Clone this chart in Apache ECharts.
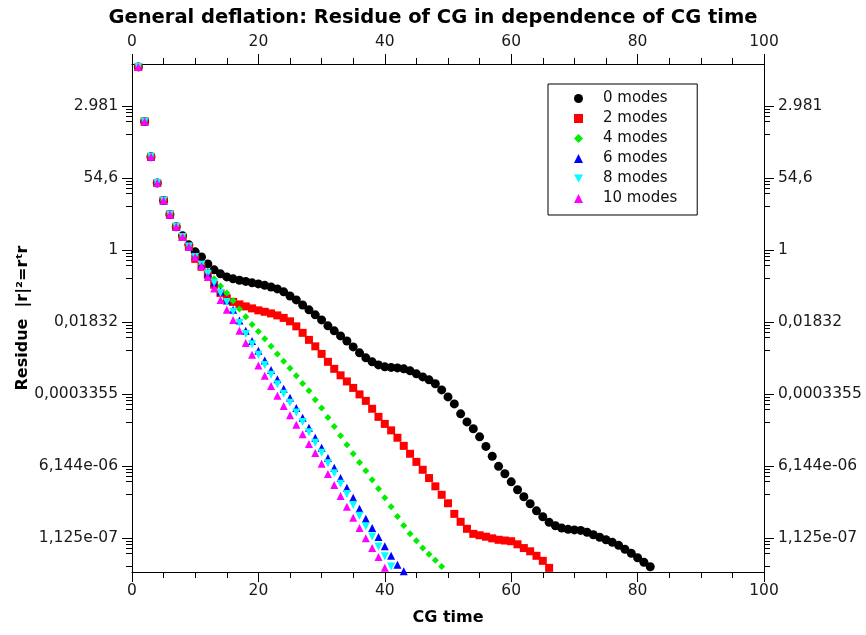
<!DOCTYPE html>
<html>
<head>
<meta charset="utf-8">
<title>General deflation</title>
<script src="https://cdn.jsdelivr.net/npm/echarts@6/dist/echarts.min.js"></script>
<style>
html, body { margin: 0; padding: 0; background: #fff; }
#main { width: 866px; height: 635px; }
</style>
</head>
<body>
<div id="main"></div>
<script>
// natural log of the residue |r|^2, one value per CG iteration (t = 1, 2, 3, ...)
var modes0 = [10.17, 7.14, 5.17, 3.72, 2.75, 1.97, 1.28, 0.78, 0.28,
  -0.11, -0.39, -0.78, -1.11, -1.33, -1.5, -1.61, -1.69, -1.75, -1.83,
  -1.89, -1.97, -2.06, -2.17, -2.33, -2.56, -2.78, -3.06, -3.33, -3.61,
  -3.89, -4.22, -4.5, -4.78, -5.06, -5.39, -5.72, -6.0, -6.22, -6.39,
  -6.5, -6.53, -6.56, -6.61, -6.72, -6.89, -7.06, -7.22, -7.44, -7.78,
  -8.17, -8.56, -9.11, -9.56, -9.94, -10.39, -10.92, -11.47, -12.03, -12.44,
  -12.89, -13.33, -13.72, -14.11, -14.5, -14.83, -15.14, -15.33, -15.46, -15.53,
  -15.56, -15.59, -15.69, -15.83, -15.97, -16.11, -16.25, -16.42, -16.64, -16.86,
  -17.11, -17.36, -17.61];
var modes2 = [10.17, 7.14, 5.17, 3.72, 2.75, 1.97, 1.28, 0.72, 0.19,
  -0.5, -0.94, -1.39, -1.94, -2.39, -2.69, -2.89, -3.03, -3.14, -3.25,
  -3.36, -3.44, -3.53, -3.64, -3.78, -3.97, -4.25, -4.61, -5.0, -5.36,
  -5.78, -6.22, -6.61, -6.97, -7.31, -7.67, -8.03, -8.39, -8.83, -9.28,
  -9.67, -10.03, -10.44, -10.89, -11.33, -11.78, -12.22, -12.68, -13.14, -13.61,
  -14.08, -14.67, -15.11, -15.5, -15.78, -15.86, -15.94, -16.03, -16.11, -16.15,
  -16.19, -16.36, -16.57, -16.75, -17.0, -17.28, -17.67];
var modes4 = [10.17, 7.14, 5.17, 3.72, 2.75, 1.97, 1.28, 0.72, 0.19,
  -0.44, -0.83, -1.22, -1.61, -2.0, -2.39, -2.83, -3.28, -3.72, -4.14,
  -4.53, -4.94, -5.36, -5.78, -6.19, -6.58, -7.0, -7.42, -7.83, -8.33,
  -8.78, -9.31, -9.81, -10.33, -10.83, -11.33, -11.81, -12.28, -12.78, -13.28,
  -13.78, -14.28, -14.81, -15.31, -15.78, -16.17, -16.56, -16.92, -17.25, -17.59];
var modes6 = [10.17, 7.14, 5.17, 3.72, 2.75, 1.97, 1.28, 0.72, 0.19,
  -0.36, -0.81, -1.28, -1.81, -2.31, -2.81, -3.33, -3.92, -4.5, -5.06,
  -5.61, -6.14, -6.67, -7.19, -7.72, -8.22, -8.78, -9.33, -9.89, -10.44,
  -11.0, -11.56, -12.11, -12.67, -13.22, -13.78, -14.39, -14.94, -15.46, -15.96,
  -16.47, -17.0, -17.5, -17.86];
var modes8 = [10.17, 7.14, 5.17, 3.72, 2.75, 1.97, 1.28, 0.72, 0.19,
  -0.39, -0.83, -1.33, -1.83, -2.39, -2.89, -3.44, -4.06, -4.67, -5.25,
  -5.83, -6.39, -6.94, -7.47, -8.0, -8.5, -9.03, -9.56, -10.14, -10.72,
  -11.28, -11.85, -12.41, -13.0, -13.56, -14.17, -14.78, -15.36, -15.93, -16.48,
  -17.03, -17.59];
var modes10 = [10.17, 7.14, 5.17, 3.72, 2.75, 1.97, 1.28, 0.72, 0.19,
  -0.39, -0.89, -1.5, -2.14, -2.78, -3.33, -3.89, -4.5, -5.17, -5.83,
  -6.42, -7.0, -7.56, -8.11, -8.67, -9.19, -9.72, -10.25, -10.78, -11.29,
  -11.89, -12.46, -13.06, -13.67, -14.28, -14.89, -15.46, -16.02, -16.57, -17.07,
  -17.67];

var seriesNames = ['0 modes', '2 modes', '4 modes', '6 modes', '8 modes', '10 modes'];

// y ticks sit at e^k, labelled the way the original program printed them
var yTickExp = [-16, -12, -8, -4, 0, 4, 8];
var yTickLabels = ['1,125e-07', '6,144e-06', '0,0003355', '0,01832', '1', '54,6', '2.981'];
var yMinorOffsets = [0.17, 0.37, 0.59, 0.85, 1.56];

var yMin = -17.9, yMax = 10.33;

var yMinor = [];
yTickExp.forEach(function (k) {
  yMinorOffsets.forEach(function (d) {
    if (k - d > yMin) yMinor.push(k - d);
  });
});

function pts(arr) {
  return arr.map(function (v, i) { return [i + 1, v]; });
}

function yLabel(v) {
  var i = yTickExp.indexOf(Math.round(v));
  return i < 0 ? '' : yTickLabels[i];
}

var font = 'DejaVu Sans';

function yAxisMajor(pos) {
  return {
    type: 'value', position: pos, min: yMin, max: yMax,
    axisLine: { show: true, onZero: false, lineStyle: { color: '#000', width: 1 } },
    axisTick: { show: true, length: 10, customValues: yTickExp, lineStyle: { color: '#000' } },
    axisLabel: { show: true, margin: 14, customValues: yTickExp, formatter: yLabel,
      fontFamily: font, fontSize: 15.5, color: '#1a1a1a' },
    splitLine: { show: false }
  };
}
function yAxisMinor(pos) {
  return {
    type: 'value', position: pos, min: yMin, max: yMax,
    axisLine: { show: false, onZero: false },
    axisTick: { show: true, length: 6, customValues: yMinor, lineStyle: { color: '#000' } },
    axisLabel: { show: false },
    splitLine: { show: false }
  };
}
function xAxis(pos) {
  return {
    type: 'value', position: pos, min: 0, max: 100, interval: 20,
    axisLine: { show: true, onZero: false, lineStyle: { color: '#000', width: 1 } },
    axisTick: { show: true, length: 10, lineStyle: { color: '#000' } },
    minorTick: { show: true, splitNumber: 4, length: 6, lineStyle: { color: '#000' } },
    axisLabel: { margin: pos === 'top' ? 14 : 11, fontFamily: font, fontSize: 15.5, color: '#1a1a1a' },
    splitLine: { show: false }
  };
}

var chart = echarts.init(document.getElementById('main'), null, { renderer: 'canvas' });

var bottomAxis = xAxis('bottom');
bottomAxis.name = 'CG time';
bottomAxis.nameLocation = 'middle';
bottomAxis.nameGap = 38;
bottomAxis.nameTextStyle = { fontFamily: font, fontSize: 16, fontWeight: 'bold', color: '#000' };

var leftAxis = yAxisMajor('left');
leftAxis.name = 'Residue  |r|\u00b2=r\u1d57r';
leftAxis.nameLocation = 'middle';
leftAxis.nameGap = 101;
leftAxis.nameRotate = 90;
leftAxis.nameMoveOverlap = false;
leftAxis.nameTextStyle = { fontFamily: font, fontSize: 16, fontWeight: 'bold', color: '#000' };

var option = {
  animation: false,
  backgroundColor: '#fff',
  title: {
    text: 'General deflation: Residue of CG in dependence of CG time',
    left: 'center', top: 3,
    textStyle: { fontFamily: font, fontSize: 19.5, fontWeight: 'bold', color: '#000' }
  },
  grid: { left: 132, right: 102, top: 64, bottom: 63, containLabel: false },
  legend: {
    orient: 'vertical', left: 548, top: 84,
    itemWidth: 9, itemHeight: 9, itemGap: 5,
    padding: [7, 20, 9, 26],
    borderColor: '#000', borderWidth: 1, backgroundColor: '#fff',
    textStyle: { fontFamily: font, fontSize: 15, color: '#111', padding: [0, 0, 0, 15] },
    data: seriesNames
  },
  xAxis: [bottomAxis, xAxis('top')],
  yAxis: [leftAxis, yAxisMajor('right'), yAxisMinor('left'), yAxisMinor('right')],
  series: [
    { name: seriesNames[0], type: 'scatter', symbol: 'circle', symbolSize: 9,
      itemStyle: { color: '#000', opacity: 1 }, data: pts(modes0) },
    { name: seriesNames[1], type: 'scatter', symbol: 'rect', symbolSize: 8,
      itemStyle: { color: '#ff0000', opacity: 1 }, data: pts(modes2) },
    { name: seriesNames[2], type: 'scatter', symbol: 'diamond', symbolSize: 7,
      itemStyle: { color: '#00ee00', opacity: 1 }, data: pts(modes4) },
    { name: seriesNames[3], type: 'scatter', symbol: 'triangle', symbolSize: 8,
      itemStyle: { color: '#0000ff', opacity: 1 }, data: pts(modes6) },
    { name: seriesNames[4], type: 'scatter', symbol: 'path://M0,0L10,0L5,9Z', symbolSize: 8,
      itemStyle: { color: '#00ffff', opacity: 1 }, data: pts(modes8) },
    { name: seriesNames[5], type: 'scatter', symbol: 'triangle', symbolSize: 8,
      itemStyle: { color: '#ff00ff', opacity: 1 }, data: pts(modes10) }
  ]
};
chart.setOption(option);
</script>
</body>
</html>
